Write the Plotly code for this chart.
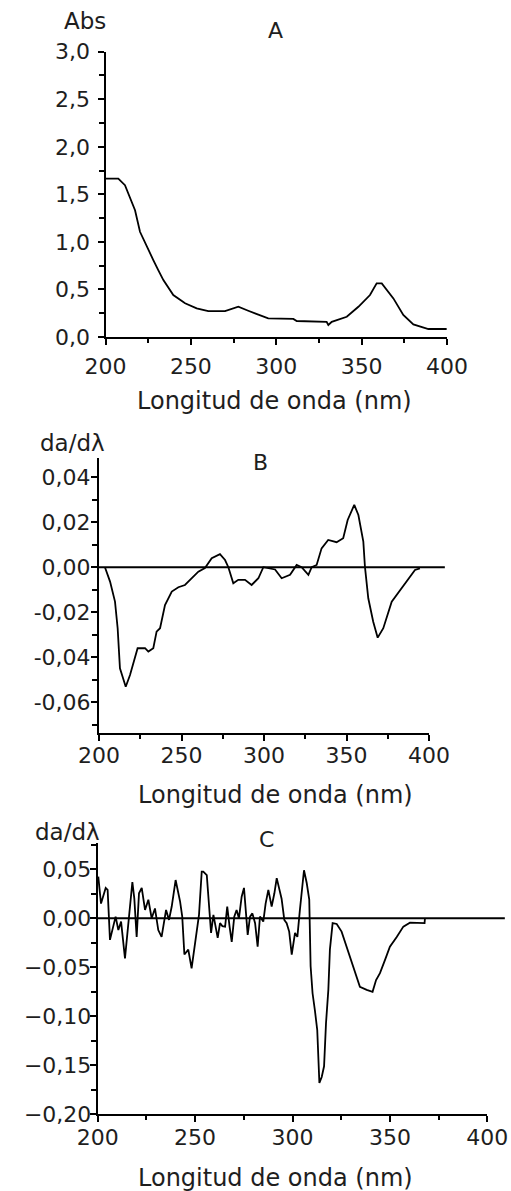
import plotly.graph_objects as go

# ---------------- data ----------------
A_nm = [200, 207.5, 211.4, 217.3, 220.2, 224.1, 228.0, 230.9, 233.9, 239.7, 246.6, 253.4,
        260.2, 270.0, 277.8, 283.6, 288.5, 295.3, 310.0, 312.0, 329.5, 330.5, 332.5, 341.3,
        348.1, 354.9, 358.8, 361.8, 368.6, 374.4, 380.3, 389.1, 399.8]
A_abs = [1.666, 1.666, 1.596, 1.333, 1.106, 0.948, 0.809, 0.704, 0.599, 0.441, 0.354, 0.301,
         0.273, 0.273, 0.318, 0.276, 0.241, 0.196, 0.190, 0.168, 0.160, 0.126, 0.160, 0.213,
         0.318, 0.441, 0.564, 0.564, 0.406, 0.231, 0.133, 0.084, 0.084]

B_nm = [203.6, 206.7, 209.7, 211.3, 212.7, 216.2, 218.8, 223.4, 227.9, 229.9, 232.9, 234.9,
        237.0, 240.0, 244.1, 248.1, 252.1, 256.2, 260.2, 264.2, 268.3, 273.3, 276.4, 278.4,
        281.4, 284.4, 288.5, 292.5, 296.6, 299.6, 306.7, 310.7, 315.8, 319.8, 322.8, 326.9,
        328.9, 331.9, 334.9, 338.9, 344.0, 348.0, 350.7, 354.7, 357.2, 360.2, 361.2, 363.2,
        366.2, 368.9, 372.3, 377.4, 383.4, 387.5, 391.5, 394.5]
B_val = [0.0, -0.0064, -0.0153, -0.0271, -0.0449, -0.0531, -0.0479, -0.036, -0.036, -0.0375,
         -0.036, -0.0286, -0.0271, -0.0168, -0.0108, -0.0089, -0.0079, -0.0049, -0.002, -0.0004,
         0.004, 0.0058, 0.0032, 0.0, -0.0071, -0.0056, -0.0056, -0.0079, -0.0049, 0.0,
         -0.001, -0.0049, -0.0034, 0.001, 0.0, -0.0034, 0.0, 0.001, 0.0084, 0.0121,
         0.0111, 0.0129, 0.021, 0.0277, 0.0232, 0.0114, 0.0, -0.0138, -0.0242, -0.0313,
         -0.0271, -0.0153, -0.0093, -0.0049, -0.0012, -0.0005]

C_nm = [200.3, 201.7, 204.1, 205.1, 206.3, 208.0, 209.2, 210.6, 212.0, 214.0, 215.7, 217.8,
        218.8, 220.0, 221.2, 222.6, 224.3, 226.0, 227.7, 229.4, 231.1, 232.8, 235.1, 236.6,
        238.0, 240.0, 242.3, 243.4, 244.5, 246.5, 248.2, 249.9, 252.0, 253.4,
        254.2, 256.0, 257.1, 258.2, 259.4, 260.6, 261.6, 262.8, 264.0, 265.4, 266.5, 267.7,
        268.8, 270.1, 271.3, 272.5, 273.9, 275.1, 276.0, 277.0, 278.2, 279.4, 280.8, 282.1,
        283.3, 285.0, 286.2, 287.6, 289.3, 290.7, 291.9, 293.1, 294.4, 295.8, 297.0, 298.3,
        299.6, 301.3, 302.5, 303.8, 305.9, 307.3, 308.6, 309.3, 310.3, 311.5, 312.7, 313.8,
        315.0, 316.2, 317.2, 318.4, 319.2, 320.6, 322.7, 325.2, 327.8, 330.4, 332.9, 334.6,
        338.1, 341.1, 342.9, 344.9, 347.5, 350.0, 353.5, 356.9, 360.3, 364.5, 367.8, 368.0]
C_val = [0.0425, 0.015, 0.031, 0.029, -0.022, -0.0085, 0.0017, -0.012, -0.0034, -0.041, -0.005, 0.037,
         0.020, -0.019, 0.0255, 0.031, 0.0085, 0.019, 0.0, 0.010, -0.012, -0.019, 0.0085, -0.0017,
         0.012, 0.039, 0.017, 0.0017, -0.037, -0.032, -0.051, -0.0255, 0.0034, 0.0476,
         0.0476, 0.044, 0.0187, -0.015, 0.0034, -0.0085, -0.020, -0.005, -0.008, -0.0085, 0.012, -0.0085,
         -0.024, 0.0017, 0.0085, 0.0, 0.022, 0.031, 0.0068, -0.017, 0.0017, 0.005, -0.005, -0.029,
         0.0017, -0.0034, 0.015, 0.029, 0.012, 0.0255, 0.041, 0.032, 0.020, -0.0017, -0.005, -0.0136,
         -0.037, -0.015, -0.019, 0.0085, 0.049, 0.036, 0.019, -0.049, -0.0765, -0.094, -0.114, -0.168,
         -0.162, -0.151, -0.107, -0.073, -0.032, -0.005, -0.0058, -0.0136, -0.029, -0.046, -0.061, -0.070,
         -0.073, -0.075, -0.063, -0.056, -0.0425, -0.029, -0.019, -0.0085, -0.0045, -0.005, -0.005, 0.0]

X_TICKS = [200, 250, 300, 350, 400]
X_TICKTEXT = ["200", "250", "300", "350", "400"]
A_YTICKS = [0.0, 0.5, 1.0, 1.5, 2.0, 2.5, 3.0]
A_YTEXT = ["0,0", "0,5", "1,0", "1,5", "2,0", "2,5", "3,0"]
B_YTICKS = [-0.06, -0.04, -0.02, 0.0, 0.02, 0.04]
B_YTEXT = ["-0,06", "-0,04", "-0,02", "0,00", "0,02", "0,04"]
C_YTICKS = [-0.20, -0.15, -0.10, -0.05, 0.0, 0.05]
C_YTEXT = ["\u22120,20", "\u22120,15", "\u22120,10", "\u22120,05", "0,00", "0,05"]

XTITLE = "Longitud de onda (nm)"

# ---------------- layout helpers ----------------
W, H = 511, 1191
def fx(p):
    return p / W
def fy(p):
    return 1 - p / H

FONT = "DejaVu Sans"
TXT = "#1e1e1e"
TICKFONT = dict(family=FONT, size=22, color=TXT)

fig = go.Figure()
line = dict(color="black", width=1.8)
fig.add_trace(go.Scatter(x=A_nm, y=A_abs, mode="lines", line=line, xaxis="x", yaxis="y", showlegend=False))
fig.add_trace(go.Scatter(x=B_nm, y=B_val, mode="lines", line=line, xaxis="x2", yaxis="y2", showlegend=False))
fig.add_trace(go.Scatter(x=C_nm, y=C_val, mode="lines", line=line, xaxis="x3", yaxis="y3", showlegend=False))

def xax(dom, anchor, standoff):
    return dict(domain=dom, anchor=anchor, range=[200, 400], showgrid=False, zeroline=False,
                automargin=False,
                showline=True, linecolor="black", linewidth=2,
                ticks="outside", ticklen=6, tickwidth=1.5, tickcolor="black",
                tickmode="array", tickvals=X_TICKS, ticktext=X_TICKTEXT,
                tickfont=TICKFONT, ticklabelstandoff=standoff,
                minor=dict(tickmode="linear", tick0=200, dtick=25, ticks="outside",
                           ticklen=4, tickwidth=1.5, tickcolor="black"))

def yax(dom, anchor, rng, vals, text, mdtick, standoff):
    return dict(domain=dom, anchor=anchor, range=rng, showgrid=False, zeroline=False,
                automargin=False,
                showline=True, linecolor="black", linewidth=2,
                ticks="outside", ticklen=6, tickwidth=1.5, tickcolor="black",
                tickmode="array", tickvals=vals, ticktext=text,
                tickfont=TICKFONT, ticklabelstandoff=standoff,
                minor=dict(tickmode="linear", tick0=0, dtick=mdtick, ticks="outside",
                           ticklen=5, tickwidth=1.5, tickcolor="black"))

fig.update_layout(
    template="none",
    width=W, height=H, autosize=False,
    margin=dict(l=0, r=0, t=0, b=0, pad=0),
    paper_bgcolor="white", plot_bgcolor="white",
    xaxis=xax([fx(105.5), fx(447)], "y", 3),
    yaxis=yax([fy(337), fy(51.7)], "x", [0, 3], A_YTICKS, A_YTEXT, 0.25, 3),
    xaxis2=xax([fx(99), fx(429)], "y2", -5),
    yaxis2=yax([fy(733.3), fy(458.3)], "x2", [-0.0738, 0.0484], B_YTICKS, B_YTEXT, 0.01, -4),
    xaxis3=xax([fx(97.7), fx(487.3)], "y3", -4),
    yaxis3=yax([fy(1114.3), fy(843.3)], "x3", [-0.20, 0.0765], C_YTICKS, C_YTEXT, 0.025, -6),
)

# zero reference lines in panels B and C (extend a bit past the axis end)
fig.add_shape(type="line", xref="x2 domain", yref="y2", x0=0, x1=1.048, y0=0, y1=0,
              line=dict(color="black", width=2))
fig.add_shape(type="line", xref="x3 domain", yref="y3", x0=0, x1=1.045, y0=0, y1=0,
              line=dict(color="black", width=2))

def note(text, px, py, size=22):
    fig.add_annotation(text=text, xref="paper", yref="paper", x=fx(px), y=fy(py),
                       xanchor="center", yanchor="middle", showarrow=False,
                       font=dict(family=FONT, size=size, color=TXT))

note("Abs", 84.5, 21.5, 23)
note("A", 275, 31, 22)
note(XTITLE, 274, 401, 24)
note("da/d\u03bb", 72, 443, 23)
note("B", 260, 462.5, 22)
note(XTITLE, 275, 795, 24)
note("da/d\u03bb", 67.5, 832, 23)
note("C", 266, 839, 22)
note(XTITLE, 275, 1178, 24)

fig.write_html("out.html", config={"displayModeBar": False},
               post_script="document.body.style.margin='0';document.body.style.overflow='hidden';")
